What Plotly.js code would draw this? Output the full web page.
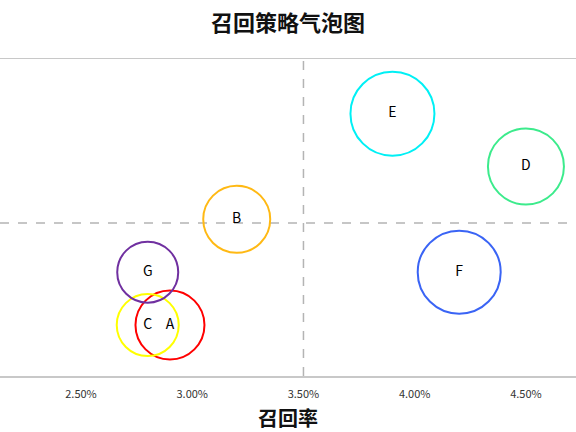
<!DOCTYPE html>
<html>
<head>
<meta charset="utf-8">
<script src="https://cdn.plot.ly/plotly-3.0.1.min.js"></script>
<style>
    html, body { margin: 0; padding: 0; background: #fff; }
    #bubble_plot { width: 576px; height: 432px; }
</style>
</head>
<body>
<div id="bubble_plot"></div>
<script>
// strategy names, recall rate, score level, bubble size
const strategy_names = ["A", "B", "C", "D", "E", "F", "G"];
const recall_rate = [0.029, 0.032, 0.028, 0.045, 0.039, 0.042, 0.028];
const score_level = [1, 3, 1, 4, 5, 2, 2];
const bubble_size = [69, 67, 62, 76, 84, 83, 61];
const bubble_colors = ["#ff0000", "#ffb914", "#ffff00", "#3ceb8c", "#00f0f5", "#3a64f5", "#7030a0"];

const recall_split = 0.035;
const score_split = 2.93;

function bubble_init()
{
    const plot_div = document.getElementById("bubble_plot");
    const font_family = "'Noto Sans CJK SC', 'Noto Sans', sans-serif";

    const bubble_trace = {
        type: "scatter",
        mode: "markers+text",
        x: recall_rate,
        y: score_level,
        text: strategy_names,
        textposition: "middle center",
        textfont: {family: font_family, size: 14, color: "#000"},
        marker: {
            size: bubble_size,
            sizemode: "diameter",
            sizeref: 1,
            opacity: 1,
            color: "rgba(0,0,0,0)",
            line: {color: bubble_colors, width: 2},
        },
        hoverinfo: "text",
        cliponaxis: false,
    };

    /* dashed split lines */
    const split_line = {color: "#b4b4b4", width: 1.5, dash: "dash"};
    const layout = {
        width: 576,
        height: 432,
        margin: {l: 0, r: 0, t: 59, b: 56},
        paper_bgcolor: "#fff",
        plot_bgcolor: "#fff",
        showlegend: false,
        font: {family: font_family, color: "#333"},
        title: {
            text: "<b>召回策略气泡图</b>",
            font: {family: font_family, size: 22, color: "#111"},
            x: 0.5, xanchor: "center",
            y: 0.947, yanchor: "middle", yref: "container",
        },
        xaxis: {
            range: [0.02136, 0.04725],
            tickvals: [0.025, 0.03, 0.035, 0.04, 0.045],
            tickformat: ".2%",
            tickfont: {size: 11, color: "#333"},
            ticklabelstandoff: 7,
            showgrid: false,
            zeroline: false,
            showline: true,
            mirror: true,
            linecolor: "#c8c8c8",
            linewidth: 1.5,
            ticks: "",
            title: {text: "<b>召回率</b>", font: {family: font_family, size: 20, color: "#111"}, standoff: 12},
        },
        yaxis: {
            range: [0.035, 6.035],
            showgrid: false,
            zeroline: false,
            showline: false,
            showticklabels: false,
            ticks: "",
        },
        shapes: [
            {type: "line", xref: "x", yref: "paper", x0: recall_split, x1: recall_split, y0: 0, y1: 1, line: split_line, layer: "below"},
            {type: "line", xref: "paper", yref: "y", x0: 0, x1: 1, y0: score_split, y1: score_split, line: split_line, layer: "below"},
        ],
    };

    Plotly.newPlot(plot_div, [bubble_trace], layout, {displayModeBar: false, staticPlot: true});
}

bubble_init();
</script>
</body>
</html>
